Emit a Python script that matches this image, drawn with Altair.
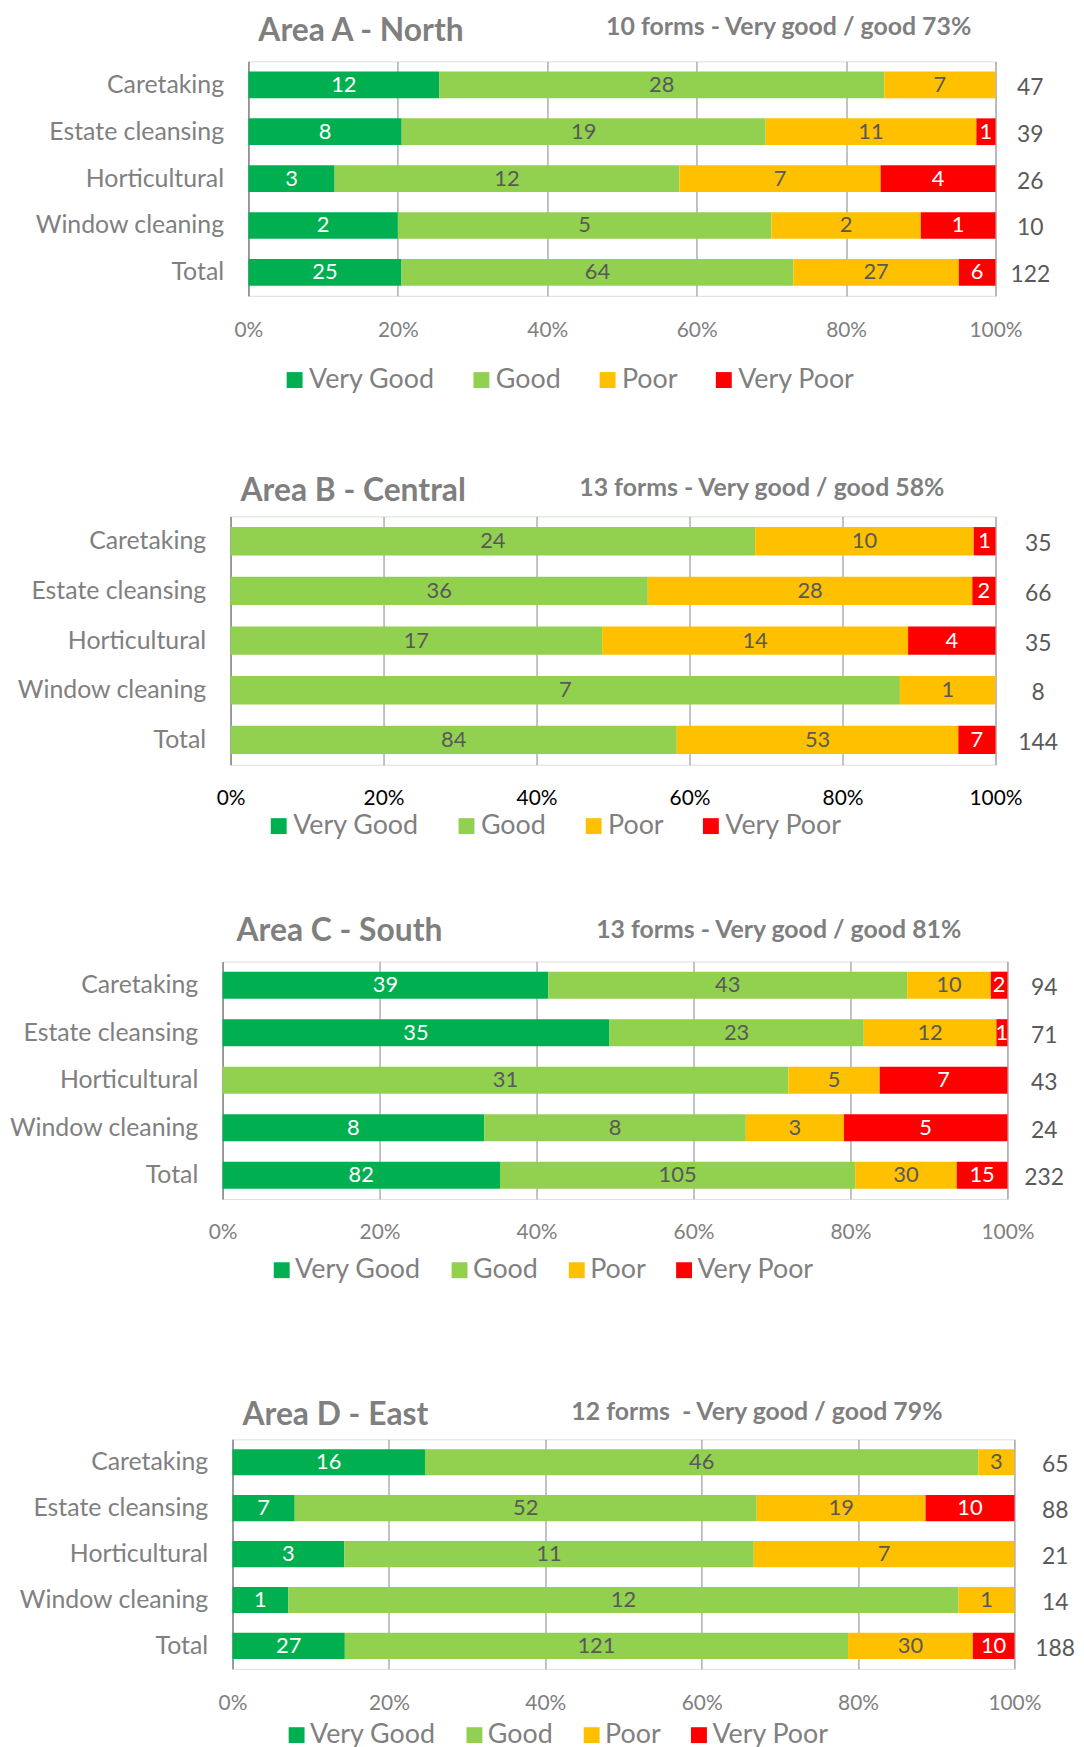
import altair as alt
import pandas as pd

CATEGORIES = ["Caretaking", "Estate cleansing", "Horticultural", "Window cleaning", "Total"]
RATINGS = ["Very Good", "Good", "Poor", "Very Poor"]
COLORS = ["#00B050", "#92D050", "#FFC000", "#FF0000"]

# counts per category row: [Very Good, Good, Poor, Very Poor]
AREA_A = [[12, 28, 7, 0], [8, 19, 11, 1], [3, 12, 7, 4], [2, 5, 2, 1], [25, 64, 27, 6]]
AREA_B = [[0, 24, 10, 1], [0, 36, 28, 2], [0, 17, 14, 4], [0, 7, 1, 0], [0, 84, 53, 7]]
AREA_C = [[39, 43, 10, 2], [35, 23, 12, 1], [0, 31, 5, 7], [8, 8, 3, 5], [82, 105, 30, 15]]
AREA_D = [[16, 46, 3, 0], [7, 52, 19, 10], [3, 11, 7, 0], [1, 12, 1, 0], [27, 121, 30, 10]]

TITLES = ["Area A - North", "Area B - Central", "Area C - South", "Area D - East"]
SUBTITLES = [
    "10 forms - Very good / good 73%",
    "13 forms - Very good / good 58%",
    "13 forms - Very good / good 81%",
    "12 forms \u00a0- Very good / good 79%",
]
TICKS = [0, 0.2, 0.4, 0.6, 0.8, 1]

FONT = "Lato"
GRID = "#868686"

# layout (pixels): plot size, left indent, space kept above / below each plot, guide offsets
LAYOUT = [
    dict(W=752, H=236, left=242, top=47, bottom=148, legx=33, legy=307, loff=1, lcol=33,
         lpad=24, acol="#808080", tx=10, ty=-31, sx=360, sy=-35, tdx=35),
    dict(W=770, H=250, left=224, top=72, bottom=118, legx=35, legy=298, loff=1, lcol=34,
         lpad=23, acol="#000000", tx=10, ty=-25, sx=351, sy=-29, tdx=43),
    dict(W=790, H=239, left=216, top=78, bottom=143, legx=46, legy=297, loff=0, lcol=25,
         lpad=23, acol="#808080", tx=14, ty=-31, sx=376, sy=-32, tdx=37),
    dict(W=787, H=231, left=226, top=97, bottom=72, legx=51, legy=284, loff=0, lcol=25,
         lpad=24, acol="#808080", tx=10, ty=-24, sx=341, sy=-27, tdx=41),
]


def blank(w, h):
    return (
        alt.Chart(pd.DataFrame({"k": [0]}))
        .mark_point(opacity=0, size=0)
        .properties(width=w, height=h)
    )


def panel(counts, i):
    L = LAYOUT[i]
    rows = []
    for ci, cat in enumerate(CATEGORIES):
        for ri, r in enumerate(RATINGS):
            rows.append(dict(category=cat, rating=r, order=ri, count=counts[ci][ri]))
    df = pd.DataFrame(rows)

    xscale = alt.Scale(domain=[0, 1], nice=False, zero=True)
    yscale = alt.Scale(paddingInner=0.43, paddingOuter=0.215)

    base = (
        alt.Chart(df)
        .transform_stack(
            stack="count",
            groupby=["category"],
            as_=["x0", "x1"],
            offset="normalize",
            sort=[alt.SortField("order", order="ascending")],
        )
        .transform_filter("datum.count > 0")
        .transform_calculate(mid="(datum.x0 + datum.x1) / 2")
    )

    bars = base.mark_bar().encode(
        x=alt.X(
            "x0:Q",
            scale=xscale,
            axis=alt.Axis(
                title=None, values=TICKS, format="%", grid=True, gridColor=GRID, gridWidth=1,
                domain=False, ticks=False, labelFont=FONT, labelFontSize=21,
                labelColor=L["acol"], labelPadding=L["lpad"], labelFlush=False,
                labelOverlap=False,
            ),
        ),
        x2="x1:Q",
        y=alt.Y(
            "category:N",
            sort=CATEGORIES,
            scale=yscale,
            axis=alt.Axis(
                title=None, ticks=False, domain=True, domainColor=GRID, domainWidth=1.2,
                labelFont=FONT, labelFontSize=25, labelColor="#808080", labelPadding=25,
                labelLimit=400,
            ),
        ),
        color=alt.Color(
            "rating:N",
            sort=RATINGS,
            scale=alt.Scale(domain=RATINGS, range=COLORS),
            legend=alt.Legend(
                orient="none", legendX=L["legx"], legendY=L["legy"], direction="horizontal",
                title=None, symbolType="square", symbolSize=256, symbolStrokeWidth=0,
                symbolOpacity=1, labelFont=FONT, labelFontSize=27, labelColor="#808080",
                labelOffset=L["loff"], columnPadding=L["lcol"], labelLimit=400,
            ),
        ),
    )

    def seg_text(names, color):
        return (
            base.transform_filter(alt.FieldOneOfPredicate(field="rating", oneOf=names))
            .mark_text(font=FONT, fontSize=22, color=color, baseline="middle", align="center")
            .encode(
                x=alt.X("mid:Q", title=None),
                y=alt.Y("category:N", sort=CATEGORIES, title=None),
                text="count:Q",
            )
        )

    white_txt = seg_text(["Very Good", "Very Poor"], "white")
    gray_txt = seg_text(["Good", "Poor"], "#595959")

    totals = (
        alt.Chart(df)
        .transform_aggregate(total="sum(count)", groupby=["category"])
        .mark_text(font=FONT, fontSize=23, color="#595959", align="center", baseline="middle",
                   dx=L["tdx"], dy=3)
        .encode(
            x=alt.X(datum=1),
            y=alt.Y("category:N", sort=CATEGORIES, title=None),
            text="total:Q",
        )
    )

    title = (
        alt.Chart(pd.DataFrame({"t": [TITLES[i]]}))
        .mark_text(font=FONT, fontSize=32, fontWeight="bold", color="#7F7F7F",
                   align="left", baseline="middle")
        .encode(x=alt.value(L["tx"]), y=alt.value(L["ty"]), text="t:N")
    )
    subtitle = (
        alt.Chart(pd.DataFrame({"t": [SUBTITLES[i]]}))
        .mark_text(font=FONT, fontSize=25, fontWeight="bold", color="#7F7F7F",
                   align="left", baseline="middle")
        .encode(x=alt.value(L["sx"]), y=alt.value(L["sy"]), text="t:N")
    )
    # invisible rule that fixes how much room the panel takes above and below its plot
    spacer = (
        alt.Chart(pd.DataFrame({"k": [0]}))
        .mark_rule(strokeOpacity=0, opacity=0)
        .encode(
            x=alt.value(0),
            y=alt.value(-L["top"]),
            y2=alt.value(L["H"] + L["bottom"]),
        )
    )

    layered = alt.layer(bars, white_txt, gray_txt, totals, title, subtitle, spacer).properties(
        width=L["W"], height=L["H"]
    )
    return alt.hconcat(blank(L["left"], 1), layered, spacing=0, bounds="flush").resolve_scale(
        color="independent"
    )


panels = [panel(c, i) for i, c in enumerate([AREA_A, AREA_B, AREA_C, AREA_D])]

chart = (
    alt.vconcat(*panels, spacing=0)
    .resolve_scale(color="independent")
    .resolve_legend(color="independent")
    .properties(padding=0)
    .configure_view(stroke=None)
    .configure(font=FONT)
)

chart.save("out.html", embed_options={"renderer": "svg", "actions": False})
